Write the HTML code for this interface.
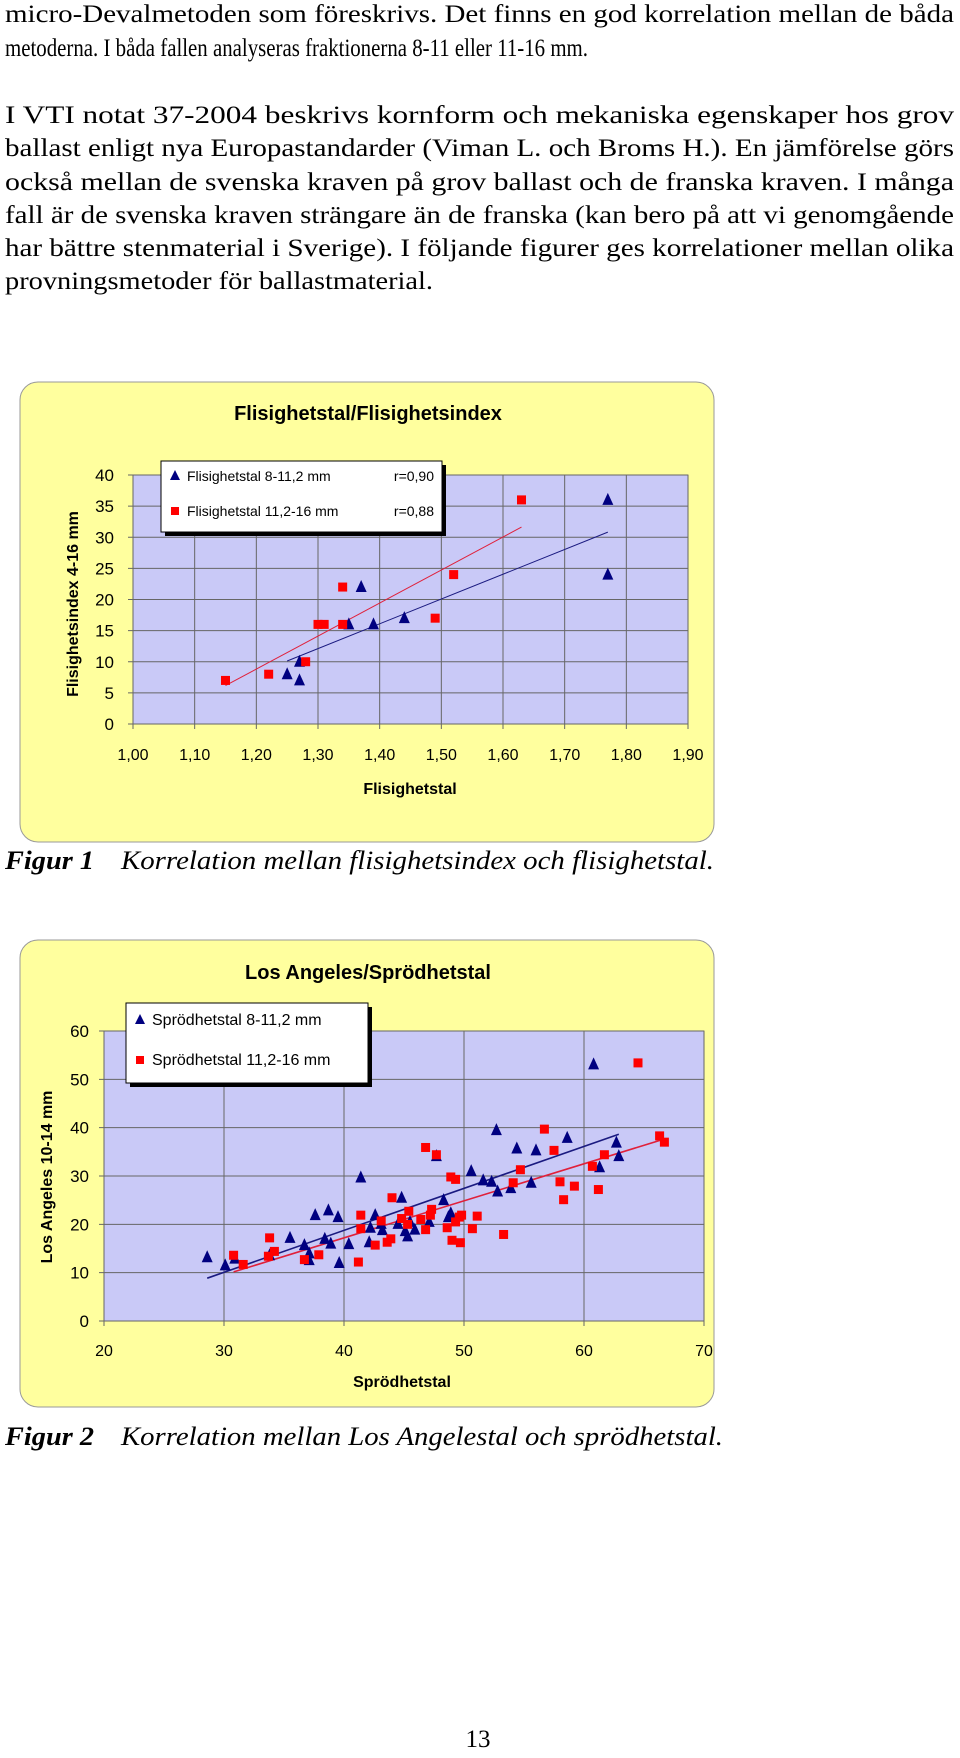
<!DOCTYPE html>
<html><head><meta charset="utf-8"><style>
html,body{margin:0;padding:0;background:#fff;}
body{width:960px;height:1758px;position:relative;overflow:hidden;}
svg{position:absolute;left:0;top:0;}
.bt{font-family:"Liberation Serif",serif;font-size:25px;fill:#000;}
.ax{font-family:"Liberation Sans",sans-serif;fill:#000;}
</style></head><body>
<svg width="960" height="1758" viewBox="0 0 960 1758">
<g>
<text class="bt" x="5" y="22" textLength="949" lengthAdjust="spacingAndGlyphs">micro-Devalmetoden som föreskrivs. Det finns en god korrelation mellan de båda</text>
<text class="bt" x="5" y="56" textLength="583" lengthAdjust="spacingAndGlyphs">metoderna. I båda fallen analyseras fraktionerna 8-11 eller 11-16 mm.</text>
<text class="bt" x="5" y="123" textLength="949" lengthAdjust="spacingAndGlyphs">I VTI notat 37-2004 beskrivs kornform och mekaniska egenskaper hos grov</text>
<text class="bt" x="5" y="156" textLength="949" lengthAdjust="spacingAndGlyphs">ballast enligt nya Europastandarder (Viman L. och Broms H.). En jämförelse görs</text>
<text class="bt" x="5" y="190" textLength="949" lengthAdjust="spacingAndGlyphs">också mellan de svenska kraven på grov ballast och de franska kraven. I många</text>
<text class="bt" x="5" y="223" textLength="949" lengthAdjust="spacingAndGlyphs">fall är de svenska kraven strängare än de franska (kan bero på att vi genomgående</text>
<text class="bt" x="5" y="256" textLength="949" lengthAdjust="spacingAndGlyphs">har bättre stenmaterial i Sverige). I följande figurer ges korrelationer mellan olika</text>
<text class="bt" x="5" y="289" textLength="428" lengthAdjust="spacingAndGlyphs">provningsmetoder för ballastmaterial.</text>
</g>
<g id="c1"></g>
<g id="c2"></g>
<g>
<text class="bt" x="5" y="869" textLength="89" lengthAdjust="spacingAndGlyphs" style="font-size:26px;font-style:italic;font-weight:bold">Figur 1</text>
<text class="bt" x="121" y="869" textLength="593" lengthAdjust="spacingAndGlyphs" style="font-size:26px;font-style:italic">Korrelation mellan flisighetsindex och flisighetstal.</text>
<text class="bt" x="5" y="1445" textLength="89" lengthAdjust="spacingAndGlyphs" style="font-size:26px;font-style:italic;font-weight:bold">Figur 2</text>
<text class="bt" x="121" y="1445" textLength="602" lengthAdjust="spacingAndGlyphs" style="font-size:26px;font-style:italic">Korrelation mellan Los Angelestal och sprödhetstal.</text>
<text class="bt" x="478" y="1747" text-anchor="middle">13</text>
</g>
</svg>
<script>
// Chart 1 data
const c1TriX=[1.25,1.27,1.27,1.35,1.37,1.39,1.44,1.77,1.77];
const c1TriY=[8,7,10,16,22,16,17,36,24];
const c1SqX=[1.15,1.22,1.28,1.30,1.31,1.34,1.34,1.49,1.52,1.63];
const c1SqY=[7,8,10,16,16,16,22,17,24,36];
const c1XTicks=["1,00","1,10","1,20","1,30","1,40","1,50","1,60","1,70","1,80","1,90"];
const c1YTicks=["0","5","10","15","20","25","30","35","40"];
// Chart 2 data
const c2TriX=[28.6,30.1,30.9,33.8,35.5,36.7,37.1,37.1,37.6,38.4,38.7,38.9,39.5,39.6,40.4,41.4,42.1,42.2,42.6,43.1,43.2,44.5,44.8,45.1,45.3,45.5,45.9,47.1,47.7,48.3,48.7,48.9,50.6,51.6,52.3,52.7,52.8,53.9,54.4,55.6,56.0,58.6,60.8,61.3,62.7,62.9];
const c2TriY=[13.2,11.5,12.9,13.6,17.2,15.7,12.6,14,21.9,17,22.9,16,21.5,12,15.9,29.7,16.3,19.3,21.9,20.1,18.8,20.1,25.5,18.6,17.5,20.5,18.9,20.5,34.1,25,21.5,22.3,31,29.1,28.8,39.5,26.8,27.5,35.7,28.6,35.3,37.9,53.1,31.8,36.9,34.1];
const c2SqX=[30.8,31.6,33.7,33.8,34.2,36.7,37.9,41.2,41.4,41.4,42.6,43.1,43.6,43.9,44.0,44.8,45.4,45.3,46.4,46.8,46.8,47.2,47.3,47.7,48.6,48.9,49.0,49.3,49.3,49.6,49.8,49.7,50.7,51.1,53.3,54.1,54.7,56.7,57.5,58.0,58.3,59.2,60.7,61.2,61.7,64.5,66.3,66.7];
const c2SqY=[13.6,11.7,13.4,17.2,14.4,12.7,13.7,12.2,19.1,21.9,15.7,20.7,16.3,17,25.5,21.2,22.7,20,21,18.9,35.9,21.9,23.1,34.4,19.3,29.8,16.7,29.3,20.5,21.5,21.9,16.2,19.1,21.7,17.9,28.6,31.3,39.7,35.3,28.8,25.1,27.9,32,27.2,34.4,53.4,38.3,37];
const c2XTicks=["20","30","40","50","60","70"];
const c2YTicks=["0","10","20","30","40","50","60"];

const NS="http://www.w3.org/2000/svg";
function mk(parent,tag,attrs,txt){const e=document.createElementNS(NS,tag);for(const k in attrs)e.setAttribute(k,attrs[k]);if(txt!==undefined)e.textContent=txt;parent.appendChild(e);return e;}
function fit(xs,ys){const n=xs.length;let sx=0,sy=0,sxx=0,sxy=0;for(let i=0;i<n;i++){sx+=xs[i];sy+=ys[i];sxx+=xs[i]*xs[i];sxy+=xs[i]*ys[i];}const b=(n*sxy-sx*sy)/(n*sxx-sx*sx);return{b:b,a:(sy-b*sx)/n};}

function chart(g,o){
  const sx=v=>o.px0+(v-o.xmin)/(o.xmax-o.xmin)*(o.px1-o.px0);
  const sy=v=>o.py0-(v-o.ymin)/(o.ymax-o.ymin)*(o.py0-o.py1);
  const panel=mk(g,'rect',{x:o.bx0,y:o.by0,width:o.bx1-o.bx0,height:o.by1-o.by0,rx:18,fill:'#ffff9e',stroke:'#999',"stroke-width":1});
  
  
  const pa=mk(g,'rect',{x:o.px0,y:o.py1,width:o.px1-o.px0,height:o.py0-o.py1,fill:'#c9c9f7',stroke:'#808080'});
  
  
  const t=mk(g,'text',{x:o.tx,y:o.ty,class:'ax','text-anchor':'middle','font-size':20,'font-weight':'bold'},o.title);
  
  
  o.xt.forEach((lab,i)=>{const v=o.xmin+i*o.xstep;const x=sx(v);
    mk(g,'line',{x1:x,y1:o.py1,x2:x,y2:o.py0+5,stroke:'#666','stroke-width':1});
    const tl=mk(g,'text',{x:x,y:o.xly,class:'ax','text-anchor':'middle','font-size':16},lab);
    
    });
  o.yt.forEach((lab,i)=>{const v=o.ymin+i*o.ystep;const y=sy(v);
    mk(g,'line',{x1:o.px0-5,y1:y,x2:o.px1,y2:y,stroke:'#666','stroke-width':1});
    const tl=mk(g,'text',{x:o.ylx,y:y+6,class:'ax','text-anchor':'end','font-size':17},lab);
    
    });
  const xt=mk(g,'text',{x:o.xtx,y:o.xty,class:'ax','text-anchor':'middle','font-size':16,'font-weight':'bold'},o.xtitle);
  
  
  const yt=mk(g,'text',{x:0,y:0,class:'ax','text-anchor':'middle','font-size':16,'font-weight':'bold',transform:`translate(${o.ytx},${o.yty}) rotate(-90)`},o.ytitle);
  
  
  [[o.tX,o.tY,'#1a1a80'],[o.sX,o.sY,'#e0203a']].forEach(([xs,ys,c])=>{const f=fit(xs,ys);const a=Math.min(...xs),b=Math.max(...xs);
    const l=mk(g,'line',{x1:sx(a),y1:sy(f.a+f.b*a),x2:sx(b),y2:sy(f.a+f.b*b),stroke:c,'stroke-width':o.lw});
    
    });
  o.tX.forEach((v,i)=>{const x=sx(v),y=sy(o.tY[i]);
    const p=mk(g,'polygon',{points:`${x},${y-7} ${x-5.5},${y+5} ${x+5.5},${y+5}`,fill:'#000080'});
    
    });
  o.sX.forEach((v,i)=>{const x=sx(v),y=sy(o.sY[i]);
    const p=mk(g,'rect',{x:x-4.5,y:y-4.5,width:9,height:9,fill:'#ff0000'});
    
    });
  const L=o.leg;
  const lg=mk(g,'g',{});
  
  
  mk(lg,'rect',{x:L.x+4,y:L.y+4,width:L.w,height:L.h,fill:'#000'});
  mk(lg,'rect',{x:L.x,y:L.y,width:L.w,height:L.h,fill:'#fff',stroke:'#000','stroke-width':1});
  const e1x=L.x+14,e1y=L.y1;
  mk(lg,'polygon',{points:`${e1x},${e1y-6} ${e1x-5},${e1y+4} ${e1x+5},${e1y+4}`,fill:'#000080'});
  const t1=mk(lg,'text',{x:L.x+26,y:e1y+5,class:'ax','font-size':L.fs},L.t1);
  
  
  mk(lg,'rect',{x:e1x-4,y:L.y2-4,width:8,height:8,fill:'#ff0000'});
  const t2=mk(lg,'text',{x:L.x+26,y:L.y2+5,class:'ax','font-size':L.fs},L.t2);
  
  
  if(L.r1){mk(lg,'text',{x:L.x+L.w-8,y:e1y+5,class:'ax','font-size':L.fs,'text-anchor':'end'},L.r1);
           mk(lg,'text',{x:L.x+L.w-8,y:L.y2+5,class:'ax','font-size':L.fs,'text-anchor':'end'},L.r2);}
}
chart(document.getElementById('c1'),{bx0:20,bx1:714,by0:382,by1:842,px0:133,px1:688,py0:724,py1:475,
  xmin:1.0,xmax:1.9,xstep:0.1,ymin:0,ymax:40,ystep:5,xt:c1XTicks,yt:c1YTicks,
  title:'Flisighetstal/Flisighetsindex',tx:368,ty:420,xly:760,ylx:114,xtitle:'Flisighetstal',xtx:410,xty:794,
  ytitle:'Flisighetsindex 4-16 mm',ytx:78,yty:604,tX:c1TriX,tY:c1TriY,sX:c1SqX,sY:c1SqY,lw:1,
  leg:{x:161,y:461,w:281,h:71,y1:476,y2:511,fs:14,t1:'Flisighetstal 8-11,2 mm',t2:'Flisighetstal 11,2-16 mm',r1:'r=0,90',r2:'r=0,88'}});
chart(document.getElementById('c2'),{bx0:20,bx1:714,by0:940,by1:1407,px0:104,px1:704,py0:1321,py1:1031,
  xmin:20,xmax:70,xstep:10,ymin:0,ymax:60,ystep:10,xt:c2XTicks,yt:c2YTicks,
  title:'Los Angeles/Sprödhetstal',tx:368,ty:979,xly:1356,ylx:89,xtitle:'Sprödhetstal',xtx:402,xty:1387,
  ytitle:'Los Angeles 10-14 mm',ytx:52,yty:1177,tX:c2TriX,tY:c2TriY,sX:c2SqX,sY:c2SqY,lw:1.6,
  leg:{x:126,y:1003,w:242,h:80,y1:1020,y2:1060,fs:16,t1:'Sprödhetstal 8-11,2 mm',t2:'Sprödhetstal 11,2-16 mm'}});
</script>
</body></html>
